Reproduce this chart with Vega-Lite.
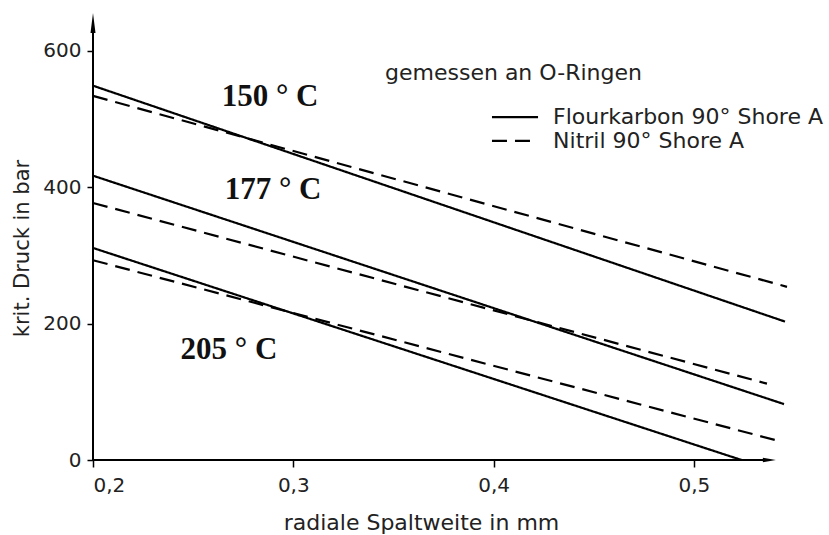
{
  "$schema": "https://vega.github.io/schema/vega-lite/v6.json",
  "width": 695,
  "height": 450,
  "autosize": {"type": "none"},
  "padding": {"left": 93, "top": 10, "right": 41, "bottom": 75},
  "background": "white",
  "config": {"view": {"stroke": null}, "font": "DejaVu Sans"},
  "datasets": {
    "lines": [
      {"material": "Flourkarbon 90° Shore A", "temp": "150", "x": 0.2, "y": 549},
      {"material": "Flourkarbon 90° Shore A", "temp": "150", "x": 0.5455, "y": 203},
      {"material": "Nitril 90° Shore A", "temp": "150", "x": 0.2, "y": 534},
      {"material": "Nitril 90° Shore A", "temp": "150", "x": 0.5465, "y": 254},
      {"material": "Flourkarbon 90° Shore A", "temp": "177", "x": 0.2, "y": 417},
      {"material": "Flourkarbon 90° Shore A", "temp": "177", "x": 0.545, "y": 82},
      {"material": "Nitril 90° Shore A", "temp": "177", "x": 0.2, "y": 377},
      {"material": "Nitril 90° Shore A", "temp": "177", "x": 0.5365, "y": 112},
      {"material": "Flourkarbon 90° Shore A", "temp": "205", "x": 0.2, "y": 311},
      {"material": "Flourkarbon 90° Shore A", "temp": "205", "x": 0.5238, "y": 0},
      {"material": "Nitril 90° Shore A", "temp": "205", "x": 0.2, "y": 293},
      {"material": "Nitril 90° Shore A", "temp": "205", "x": 0.541, "y": 29}
    ],
    "legend": [
      {"material": "Flourkarbon 90° Shore A", "x": 0.3992, "x2": 0.4222, "xt": 0.4297, "y": 503},
      {"material": "Nitril 90° Shore A", "x": 0.3992, "x2": 0.4207, "xt": 0.4297, "y": 468}
    ],
    "axislines": [
      {"x": 0.2, "y": 0, "x2": 0.5377, "y2": 0},
      {"x": 0.2, "y": 0, "x2": 0.2, "y2": 641}
    ],
    "arrows": [
      {"axis": "x", "x": 0.5377, "y": 0},
      {"axis": "y", "x": 0.2, "y": 641}
    ],
    "temps": [
      {"label": "150 ° C", "x": 0.2884, "y": 532},
      {"label": "177 ° C", "x": 0.2899, "y": 396},
      {"label": "205 ° C", "x": 0.2679, "y": 161}
    ],
    "notes": [
      {"label": "gemessen an O-Ringen", "x": 0.3458, "y": 568}
    ]
  },
  "encoding": {
    "x": {
      "field": "x",
      "type": "quantitative",
      "scale": {"domain": [0.2, 0.547], "zero": false, "nice": false},
      "axis": {
        "values": [0.2, 0.3, 0.4, 0.5],
        "labelExpr": "replace(format(datum.value, '.1f'), '.', ',')",
        "domain": false,
        "grid": false,
        "tickSize": 7,
        "tickWidth": 1.5,
        "tickColor": "black",
        "labelFontSize": 20,
        "labelColor": "#222",
        "labelPadding": 8,
        "title": "radiale Spaltweite in mm",
        "titleFontSize": 22,
        "titleFontWeight": "normal",
        "titleColor": "#222",
        "titleX": 328,
        "titleY": 62,
        "titleBaseline": "middle"
      }
    },
    "y": {
      "field": "y",
      "type": "quantitative",
      "scale": {"domain": [0, 660], "nice": false},
      "axis": {
        "values": [0, 200, 400, 600],
        "domain": false,
        "grid": false,
        "tickSize": 6,
        "tickWidth": 1.5,
        "tickColor": "black",
        "labelFontSize": 20,
        "labelColor": "#222",
        "labelPadding": 6,
        "title": "krit. Druck in bar",
        "titleFontSize": 21,
        "titleFontWeight": "normal",
        "titleColor": "#222",
        "titleX": -71,
        "titleY": 238,
        "titleBaseline": "middle"
      }
    }
  },
  "layer": [
    {
      "data": {"name": "axislines"},
      "mark": {"type": "rule", "color": "black", "strokeWidth": 2},
      "encoding": {"x2": {"field": "x2"}, "y2": {"field": "y2"}}
    },
    {
      "data": {"name": "arrows"},
      "mark": {"type": "point", "filled": true, "color": "black", "opacity": 1},
      "encoding": {
        "shape": {"field": "axis", "type": "nominal", "legend": null,
          "scale": {"domain": ["x", "y"], "range": ["M1,0L-1,0.35L-1,-0.35Z", "M0,-1L0.25,1L-0.25,1Z"]}},
        "size": {"field": "axis", "type": "nominal", "legend": null,
          "scale": {"domain": ["x", "y"], "range": [169, 400]}}
      }
    },
    {
      "data": {"name": "lines"},
      "mark": {"type": "line", "color": "black", "strokeWidth": 2.2, "clip": false},
      "encoding": {
        "detail": {"field": "temp"},
        "strokeDash": {
          "field": "material",
          "type": "nominal",
          "scale": {"domain": ["Flourkarbon 90° Shore A", "Nitril 90° Shore A"], "range": [[1, 0], [15, 8]]},
          "legend": null
        }
      }
    },
    {
      "data": {"name": "legend"},
      "mark": {"type": "rule", "color": "black", "strokeWidth": 2.2},
      "encoding": {
        "x2": {"field": "x2"},
        "strokeDash": {"field": "material", "type": "nominal", "legend": null}
      }
    },
    {
      "data": {"name": "legend"},
      "mark": {"type": "text", "font": "DejaVu Sans", "fontSize": 22, "color": "#222", "align": "left", "baseline": "middle"},
      "encoding": {
        "x": {"field": "xt", "type": "quantitative"},
        "text": {"field": "material"}
      }
    },
    {
      "data": {"name": "temps"},
      "mark": {"type": "text", "font": "Liberation Serif", "fontWeight": "bold", "fontSize": 31, "color": "#111", "align": "center", "baseline": "middle"},
      "encoding": {"text": {"field": "label"}}
    },
    {
      "data": {"name": "notes"},
      "mark": {"type": "text", "font": "DejaVu Sans", "fontSize": 22, "color": "#222", "align": "left", "baseline": "middle"},
      "encoding": {"text": {"field": "label"}}
    }
  ]
}
